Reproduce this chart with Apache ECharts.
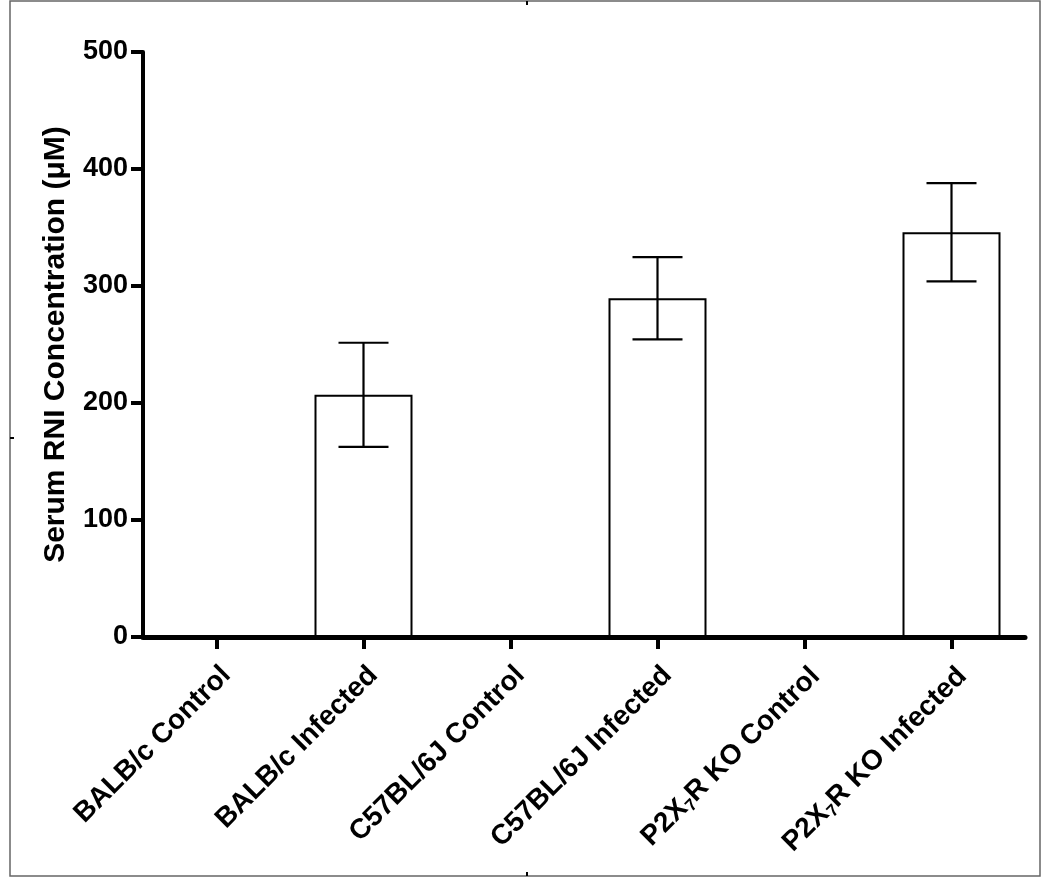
<!DOCTYPE html>
<html>
<head>
<meta charset="utf-8">
<script src="https://cdn.jsdelivr.net/npm/echarts@6/dist/echarts.min.js"></script>
<style>
  html, body { margin: 0; padding: 0; background: #fff; }
  #chart { width: 1050px; height: 888px; }
</style>
</head>
<body>
<div id="chart"></div>
<script>
// groups on the x axis
var groups = ["BALB/c Control", "BALB/c Infected", "C57BL/6J Control",
  "C57BL/6J Infected", "P2X7R KO Control", "P2X7R KO Infected"];
// mean serum RNI (uM), controls have no bar
var means = [null, 207, null, 289.5, null, 346];
// standard error
var sems = [null, 44.5, null, 35.2, null, 42];
var yTicks = [0, 100, 200, 300, 400, 500];

var font = "'Liberation Sans', Arial, sans-serif";

var barData = means.map(function (v) { return v == null ? "-" : v; });
var errData = [];
means.forEach(function (v, i) {
  if (v != null) errData.push([i, v - sems[i], v + sems[i]]);
});

function fmtLabel(s) {
  // P2X7R -> subscript 7
  if (s.indexOf("P2X7R") === 0) {
    return "{b|P2X}{s|7}{b|" + s.slice(4) + "}";
  }
  return "{b|" + s + "}";
}

var chart = echarts.init(document.getElementById("chart"));
chart.setOption({
  animation: false,
  backgroundColor: "#fff",
  grid: { left: 143, right: 25, top: 52, bottom: 251, containLabel: false },
  xAxis: {
    type: "category",
    data: groups,
    boundaryGap: true,
    axisLine: { lineStyle: { color: "#000", width: 5, cap: "round" } },
    axisTick: { show: true, alignWithLabel: true, length: 12, lineStyle: { color: "#000", width: 4 } },
    axisLabel: {
      interval: 0,
      rotate: 45,
      margin: 24,
      verticalAlign: "top",
      formatter: fmtLabel,
      rich: {
        b: { fontFamily: font, fontWeight: "bold", fontSize: 28, color: "#000" },
        s: { fontFamily: font, fontWeight: "bold", fontSize: 17, color: "#000", verticalAlign: "bottom", padding: [14, 0, 0, 0] }
      }
    },
    splitLine: { show: false }
  },
  yAxis: {
    type: "value",
    min: yTicks[0],
    max: yTicks[yTicks.length - 1],
    interval: 100,
    name: "Serum RNI Concentration (\u03bcM)",
    nameLocation: "middle",
    nameGap: 72,
    nameTextStyle: { fontFamily: font, fontWeight: "bold", fontSize: 30, color: "#000" },
    axisLine: { show: true, lineStyle: { color: "#000", width: 4, cap: "round" } },
    axisTick: { show: true, length: 12, lineStyle: { color: "#000", width: 4 } },
    axisLabel: { margin: 15, fontFamily: font, fontWeight: "bold", fontSize: 27, color: "#000" },
    splitLine: { show: false }
  },
  graphic: [
    { type: "rect", shape: { x: 10, y: 1, width: 1030, height: 875 }, style: { fill: "none", stroke: "#666", lineWidth: 1.5 }, silent: true },
    { type: "line", shape: { x1: 527, y1: 1, x2: 527, y2: 5 }, style: { stroke: "#000", lineWidth: 2 } },
    { type: "line", shape: { x1: 527, y1: 876, x2: 527, y2: 872 }, style: { stroke: "#000", lineWidth: 2 } },
    { type: "line", shape: { x1: 10, y1: 438, x2: 14, y2: 438 }, style: { stroke: "#000", lineWidth: 2 } }
  ],
  series: [
    {
      type: "bar",
      data: barData,
      barWidth: 98,
      itemStyle: { color: "#fff", borderColor: "#000", borderWidth: 2 },
      z: 2
    },
    {
      type: "custom",
      data: errData,
      z: 3,
      renderItem: function (params, api) {
        var lo = api.coord([api.value(0), api.value(1)]);
        var hi = api.coord([api.value(0), api.value(2)]);
        var w = 25;
        var st = { stroke: "#000", lineWidth: 2.2, fill: null };
        return {
          type: "group",
          children: [
            { type: "line", shape: { x1: lo[0], y1: lo[1], x2: hi[0], y2: hi[1] }, style: st },
            { type: "line", shape: { x1: hi[0] - w, y1: hi[1], x2: hi[0] + w, y2: hi[1] }, style: st },
            { type: "line", shape: { x1: lo[0] - w, y1: lo[1], x2: lo[0] + w, y2: lo[1] }, style: st }
          ]
        };
      }
    }
  ]
});
</script>
</body>
</html>
